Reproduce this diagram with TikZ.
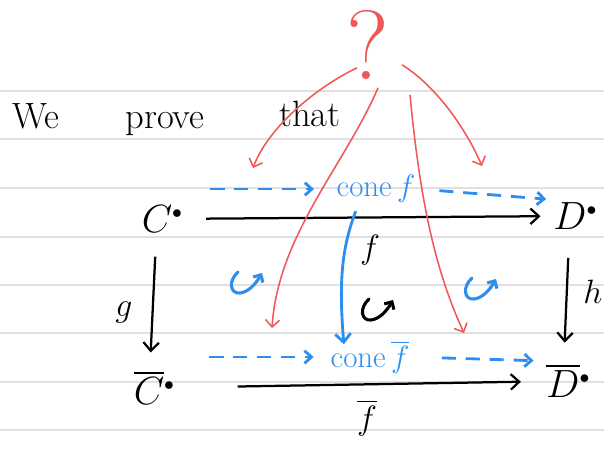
\RequirePackage{fix-cm}
\documentclass[tikz,border=0pt]{standalone}
\usepackage{amsmath,mathtools}
\usepackage{tikz}
\usetikzlibrary{arrows.meta,calc}
\usepackage{xcolor}
\definecolor{penblue}{RGB}{45,142,240}
\definecolor{penred}{RGB}{240,88,88}
\newcommand{\cdt}{^{\scriptscriptstyle\bullet}}

\begin{document}
\begin{tikzpicture}[
  x=0.025cm,y=-0.025cm,
  every node/.style={inner sep=2pt},
  obj/.style={font=\fontsize{28}{30}\selectfont},
  lab/.style={font=\fontsize{24}{26}\selectfont},
  words/.style={font=\fontsize{26}{28}\selectfont,anchor=base},
  conelab/.style={text=penblue,font=\fontsize{22}{24}\selectfont},
  ruled/.style={draw=black!12,line width=0.8pt},
  arr/.style={line width=1.6pt,-{Straight Barb[length=6pt,width=11pt]}},
  solidblue/.style={penblue,line width=2pt,-{Straight Barb[length=6pt,width=11pt]}},
  dasharr/.style={penblue,line width=2pt,dash pattern=on 10pt off 7pt,-{Straight Barb[length=5pt,width=9pt]}},
  redarr/.style={penred,line width=1.1pt,-{Straight Barb[length=5pt,width=10pt]}},
  commute/.pic={\draw[line width=2.2pt,line cap=round,-{Straight Barb[length=4pt,width=8pt]}]
    (-8,-11) .. controls (-18,-2) and (-16,11) .. (-6,10) .. controls (2,9) and (9,2) .. (16,-10);}
]
  \fill[white] (0,0) rectangle (604,450);
  \useasboundingbox (0,0) rectangle (604,450);
  \foreach \y in {91,139,188,237,285,333,382,430}
    \draw[ruled] (0,\y) -- (604,\y);

  % heading
  \node[words] (we) at (36,128) {We};
  \node[words] (prove) at (165,128) {prove};
  \node[words] (that) at (310,126) {that};

  % the square
  \node[obj] (C) at (157,219) {$C\mathrlap{\cdt}$};
  \node[obj] (D) at (570,216) {$D\mathrlap{\cdt}$};
  \node[obj] (Cb) at (149,388) {$\overline{C}\mathrlap{\cdt}$};
  \node[obj] (Db) at (563,381) {$\overline{D}\mathrlap{\cdt}$};
  \node[conelab] (cone) at (376,189) {$\mathrm{cone}\,f$};
  \node[conelab] (coneb) at (370,357) {$\mathrm{cone}\,\overline{f}$};

  \draw[arr,shorten <=22pt,shorten >=7pt] (C) -- (D);
  \draw[arr,shorten <=50pt,shorten >=16pt] (Cb) -- (Db);
  \draw[arr,shorten <=15pt,shorten >=11pt] (C) -- (Cb);
  \draw[arr,shorten <=18pt,shorten >=13pt] (D) -- (Db);
  \node[lab] (flab) at (370,250) {$f$};
  \node[lab] (glab) at (124,313) {$g$};
  \node[lab] (hlab) at (593,292) {$h$};
  \node[lab] (fblab) at (367,418) {$\overline{f}$};

  % cones
  \draw[dasharr,shorten <=25pt,shorten >=14pt] (C.east |- cone) -- (cone.west);
  \draw[dasharr,shorten <=15pt,shorten >=3pt] (cone.east) -- (D.north west);
  \draw[dasharr,shorten <=30pt,shorten >=10pt] (Cb.east |- coneb) -- (coneb.west);
  \draw[dasharr,shorten <=21pt,shorten >=7pt] (coneb.east) -- (Db.north west);
  \draw[solidblue,shorten <=4pt,shorten >=-5pt] ([xshift=-13pt]cone.south)
    .. controls +(-15,40) and +(-5,-60) .. ([xshift=-19pt]coneb.north);

  \pic[penblue] at (246,283) {commute};
  \pic[penblue] at (480,289) {commute};
  \pic at (377,310) {commute};

  % the question
  \node[font=\fontsize{70}{70}\selectfont,text=penred,inner sep=0pt] (q) at (368,45) {?};
  \coordinate (t1) at (253,168);
  \coordinate (t2) at (272,328);
  \coordinate (t3) at (464,333);
  \coordinate (t4) at (482,166);
  \draw[redarr] ($(q.south)+(-11,-12)$) .. controls (315,88) and (268,128) .. (t1);
  \draw[redarr] ($(q.south)+(10,8)$) .. controls (345,165) and (278,235) .. (t2);
  \draw[redarr] ($(q.south)+(42,15)$) .. controls (420,200) and (435,270) .. (t3);
  \draw[redarr] ($(q.south)+(34,-15)$) .. controls (430,82) and (462,120) .. (t4);
\end{tikzpicture}
\end{document}
